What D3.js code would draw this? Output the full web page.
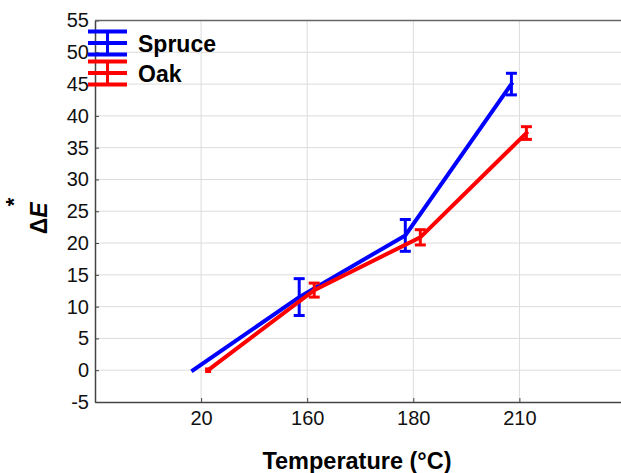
<!DOCTYPE html>
<html>
<head>
<meta charset="utf-8">
<script src="https://cdn.jsdelivr.net/npm/d3@7"></script>
<style>
  body { margin: 0; background: #fff; }
  svg { display: block; font-family: Arial, "Liberation Sans", sans-serif; }
</style>
</head>
<body>
<div id="chart"></div>
<script>
// data
var categories = ["20", "160", "180", "210"]
var spruce = [0, 11.5, 21.2, 45.0]
var spruceErr = [0, 2.9, 2.5, 1.7]
var oak = [0, 12.6, 20.9, 37.3]
var oakErr = [0.2, 1.1, 1.2, 1.0]
var yTicks = [-5, 0, 5, 10, 15, 20, 25, 30, 35, 40, 45, 50, 55]

var series = [
  { name: "Spruce", color: "#0000ff", vals: spruce, errs: spruceErr, shift: -8 },
  { name: "Oak", color: "#ff0000", vals: oak, errs: oakErr, shift: 7 }
]

const W = 621, H = 473
const margin = { top: 20.5, left: 95, bottom: 71 }
const FONT = "Arial, 'Liberation Sans', sans-serif"

const svg = d3.select("#chart").append("svg")
  .attr("width", W).attr("height", H)

// x: category slots 1..4 inside a 0..5 frame (right edge falls off the page)
const x = d3.scaleLinear().domain([0, 5]).range([margin.left, margin.left + 5 * 106.1])
const y = d3.scaleLinear().domain([-5, 55]).range([H - margin.bottom, margin.top])

// grid
svg.append("g").selectAll("line.gy")
  .data(yTicks.slice(1, -1))
  .enter().append("line")
  .attr("x1", x(0)).attr("x2", x(5))
  .attr("y1", d => y(d)).attr("y2", d => y(d))
  .attr("stroke", "#dcdcdc").attr("stroke-width", 1)
svg.append("g").selectAll("line.gx")
  .data(categories)
  .enter().append("line")
  .attr("x1", (d, i) => x(i + 1)).attr("x2", (d, i) => x(i + 1))
  .attr("y1", y(-5)).attr("y2", y(55))
  .attr("stroke", "#dcdcdc").attr("stroke-width", 1)

// axes (ticks pointing inward)
const yAxis = svg.append("g")
  .attr("transform", `translate(${x(0)},0)`)
  .call(d3.axisLeft(y).tickValues(yTicks).tickFormat(d => String(d))
    .tickSizeInner(-4).tickSizeOuter(0).tickPadding(6))
yAxis.select(".domain").attr("stroke", "#444").attr("stroke-width", 1.5)
yAxis.selectAll(".tick line").attr("stroke", "#444")
yAxis.selectAll("text").style("font-size", "20px").attr("fill", "#111").style("font-family", FONT)

const xAxis = svg.append("g")
  .attr("transform", `translate(0,${y(-5)})`)
  .call(d3.axisBottom(x).tickValues([1, 2, 3, 4]).tickFormat((d) => categories[d - 1])
    .tickSizeInner(-4).tickSizeOuter(0).tickPadding(9))
xAxis.select(".domain").attr("stroke", "#444").attr("stroke-width", 1.5)
xAxis.selectAll(".tick line").attr("stroke", "#444")
xAxis.selectAll("text").style("font-size", "20px").attr("fill", "#111").style("font-family", FONT)

// top frame line
svg.append("line")
  .attr("x1", x(0)).attr("x2", x(5))
  .attr("y1", y(55)).attr("y2", y(55))
  .attr("stroke", "#666").attr("stroke-width", 1.5)

// lines + error bars
const line = d3.line()
series.forEach(function (s) {
  var pts = s.vals.map((v, i) => [x(i + 1) + s.shift, y(v)])
  svg.append("path")
    .attr("d", line(pts))
    .attr("fill", "none")
    .attr("stroke", s.color)
    .attr("stroke-width", 4)
    .attr("stroke-linecap", "square")

  var g = svg.append("g").attr("stroke", s.color).attr("stroke-width", 3)
  s.vals.forEach(function (v, i) {
    if (!s.errs[i]) return
    var cx = x(i + 1) + s.shift
    var y0 = y(v - s.errs[i]), y1 = y(v + s.errs[i])
    var cw = s.errs[i] < 0.5 ? 3 : 5.5
    g.append("line").attr("x1", cx).attr("x2", cx).attr("y1", y0).attr("y2", y1)
    g.append("line").attr("x1", cx - cw).attr("x2", cx + cw).attr("y1", y0).attr("y2", y0)
    g.append("line").attr("x1", cx - cw).attr("x2", cx + cw).attr("y1", y1).attr("y2", y1)
  })
})

// legend
series.forEach(function (s, i) {
  var cy = 43 + i * 30
  var lg = svg.append("g").attr("stroke", s.color).attr("stroke-width", 4)
  lg.append("line").attr("x1", 88).attr("x2", 127).attr("y1", cy).attr("y2", cy)
  lg.append("line").attr("x1", 88).attr("x2", 127).attr("y1", cy - 11.5).attr("y2", cy - 11.5)
  lg.append("line").attr("x1", 88).attr("x2", 127).attr("y1", cy + 11.5).attr("y2", cy + 11.5)
  lg.append("line").attr("x1", 107.5).attr("x2", 107.5).attr("y1", cy - 11.5).attr("y2", cy + 11.5)
    .attr("stroke-width", 3)
  svg.append("text")
    .attr("x", 138).attr("y", cy + 8.5)
    .attr("font-size", 23).attr("font-weight", "bold").attr("fill", "#000")
    .text(s.name)
})

// axis titles
svg.append("text")
  .attr("x", 357).attr("y", 469)
  .attr("text-anchor", "middle")
  .attr("font-size", 23.5).attr("font-weight", "bold")
  .text("Temperature (°C)")

var yt = svg.append("text")
  .attr("transform", "translate(47,216) rotate(-90)")
  .attr("text-anchor", "middle")
  .attr("font-size", 23).attr("font-weight", "bold")
yt.append("tspan").text("Δ")
yt.append("tspan").attr("font-style", "italic").text("E")
yt.append("tspan").attr("dy", -26).attr("dx", -4).attr("font-size", 22).text("*")
</script>
</body>
</html>
